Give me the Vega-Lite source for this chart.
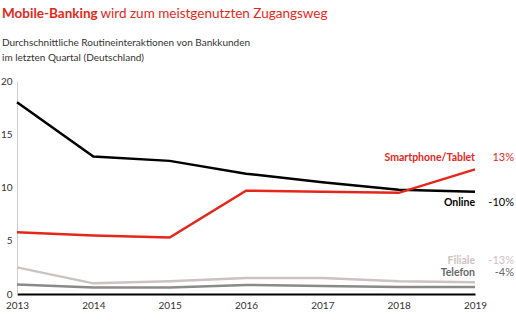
{
  "$schema": "https://vega.github.io/schema/vega-lite/v6.json",
  "width": 458,
  "height": 213,
  "autosize": "none",
  "padding": {"left": 17, "top": 81, "right": 41, "bottom": 29},
  "background": "white",
  "config": {"view": {"stroke": null}, "font": "Lato"},
  "title": {
    "text": "Mobile-Banking",
    "subtitle": ["Durchschnittliche Routineinteraktionen von Bankkunden", "im letzten Quartal (Deutschland)"],
    "anchor": "start",
    "frame": "group",
    "dx": -15,
    "color": "#e3271b",
    "fontSize": 13.5,
    "fontWeight": "bold",
    "subtitleColor": "#333333",
    "subtitleFontSize": 10,
    "subtitleLineHeight": 15,
    "subtitlePadding": 18,
    "offset": -57
  },
  "datasets": {
    "main": [
      {"year": 2013, "series": "Online", "value": 18.0},
      {"year": 2014, "series": "Online", "value": 12.9},
      {"year": 2015, "series": "Online", "value": 12.5},
      {"year": 2016, "series": "Online", "value": 11.3},
      {"year": 2017, "series": "Online", "value": 10.5},
      {"year": 2018, "series": "Online", "value": 9.8},
      {"year": 2019, "series": "Online", "value": 9.6},
      {"year": 2013, "series": "Smartphone/Tablet", "value": 5.8},
      {"year": 2014, "series": "Smartphone/Tablet", "value": 5.5},
      {"year": 2015, "series": "Smartphone/Tablet", "value": 5.3},
      {"year": 2016, "series": "Smartphone/Tablet", "value": 9.7},
      {"year": 2017, "series": "Smartphone/Tablet", "value": 9.6},
      {"year": 2018, "series": "Smartphone/Tablet", "value": 9.5},
      {"year": 2019, "series": "Smartphone/Tablet", "value": 11.7},
      {"year": 2013, "series": "Filiale", "value": 2.5},
      {"year": 2014, "series": "Filiale", "value": 1.0},
      {"year": 2015, "series": "Filiale", "value": 1.2},
      {"year": 2016, "series": "Filiale", "value": 1.5},
      {"year": 2017, "series": "Filiale", "value": 1.5},
      {"year": 2018, "series": "Filiale", "value": 1.2},
      {"year": 2019, "series": "Filiale", "value": 1.1},
      {"year": 2013, "series": "Telefon", "value": 0.9},
      {"year": 2014, "series": "Telefon", "value": 0.6},
      {"year": 2015, "series": "Telefon", "value": 0.6},
      {"year": 2016, "series": "Telefon", "value": 0.85},
      {"year": 2017, "series": "Telefon", "value": 0.75},
      {"year": 2018, "series": "Telefon", "value": 0.65},
      {"year": 2019, "series": "Telefon", "value": 0.65}
    ],
    "ends": [
      {"series": "Smartphone/Tablet", "pct": "13%"},
      {"series": "Online", "pct": "-10%"},
      {"series": "Filiale", "pct": "-13%"},
      {"series": "Telefon", "pct": "-4%"}
    ]
  },
  "data": {"name": "main"},
  "encoding": {
    "x": {
      "field": "year", "type": "quantitative",
      "scale": {"domain": [2013, 2019], "nice": false, "zero": false},
      "axis": {
        "title": null, "values": [2013, 2014, 2015, 2016, 2017, 2018, 2019], "format": "d",
        "grid": false, "ticks": false, "domainColor": "#000000", "domainWidth": 2,
        "labelColor": "#333333", "labelFontSize": 10, "labelPadding": 6, "labelFlush": false
      }
    },
    "y": {
      "field": "value", "type": "quantitative",
      "scale": {"domain": [0, 20], "nice": false},
      "axis": {
        "title": "wird zum meistgenutzten Zugangsweg",
        "titleAngle": 0, "titleX": 83, "titleY": -64, "titleAlign": "left", "titleBaseline": "alphabetic",
        "titleColor": "#e3271b", "titleFontWeight": "normal", "titleFontSize": 13.5,
        "values": [0, 5, 10, 15, 20], "grid": false, "ticks": false,
        "domainColor": "#cccccc", "domainWidth": 1,
        "labelColor": "#333333", "labelFontSize": 10, "labelPadding": 5
      }
    },
    "color": {
      "field": "series", "type": "nominal",
      "scale": {"domain": ["Online", "Smartphone/Tablet", "Filiale", "Telefon"], "range": ["#000000", "#e3271b", "#cbc2c2", "#8a8a8a"]},
      "legend": null
    }
  },
  "layer": [
    {"mark": {"type": "line", "strokeWidth": 2.5}},
    {
      "transform": [
        {"filter": "datum.year == 2019 && datum.series == 'Smartphone/Tablet'"},
        {"lookup": "series", "from": {"data": {"name": "ends"}, "key": "series", "fields": ["pct"]}}
      ],
      "layer": [
        {"mark": {"type": "text", "align": "right", "baseline": "middle", "dy": -11, "fontWeight": "bold", "fontSize": 10.5}, "encoding": {"text": {"field": "series"}}},
        {"mark": {"type": "text", "align": "right", "baseline": "middle", "dy": -11, "dx": 39, "fontSize": 11}, "encoding": {"text": {"field": "pct"}}}
      ]
    },
    {
      "transform": [
        {"filter": "datum.year == 2019 && datum.series == 'Online'"},
        {"lookup": "series", "from": {"data": {"name": "ends"}, "key": "series", "fields": ["pct"]}}
      ],
      "layer": [
        {"mark": {"type": "text", "align": "right", "baseline": "middle", "dy": 11, "fontWeight": "bold", "fontSize": 10.5}, "encoding": {"text": {"field": "series"}}},
        {"mark": {"type": "text", "align": "right", "baseline": "middle", "dy": 11, "dx": 39, "fontSize": 11}, "encoding": {"text": {"field": "pct"}}}
      ]
    },
    {
      "transform": [
        {"filter": "datum.year == 2019 && datum.series == 'Filiale'"},
        {"lookup": "series", "from": {"data": {"name": "ends"}, "key": "series", "fields": ["pct"]}}
      ],
      "layer": [
        {"mark": {"type": "text", "align": "right", "baseline": "middle", "dy": -21, "fontWeight": "bold", "fontSize": 10.5}, "encoding": {"text": {"field": "series"}}},
        {"mark": {"type": "text", "align": "right", "baseline": "middle", "dy": -21, "dx": 39, "fontSize": 11}, "encoding": {"text": {"field": "pct"}}}
      ]
    },
    {
      "transform": [
        {"filter": "datum.year == 2019 && datum.series == 'Telefon'"},
        {"lookup": "series", "from": {"data": {"name": "ends"}, "key": "series", "fields": ["pct"]}}
      ],
      "layer": [
        {"mark": {"type": "text", "align": "right", "baseline": "middle", "dy": -14, "fontWeight": "bold", "fontSize": 10.5}, "encoding": {"text": {"field": "series"}, "color": {"value": "#666666"}}},
        {"mark": {"type": "text", "align": "right", "baseline": "middle", "dy": -14, "dx": 39, "fontSize": 11}, "encoding": {"text": {"field": "pct"}, "color": {"value": "#666666"}}}
      ]
    }
  ]
}
